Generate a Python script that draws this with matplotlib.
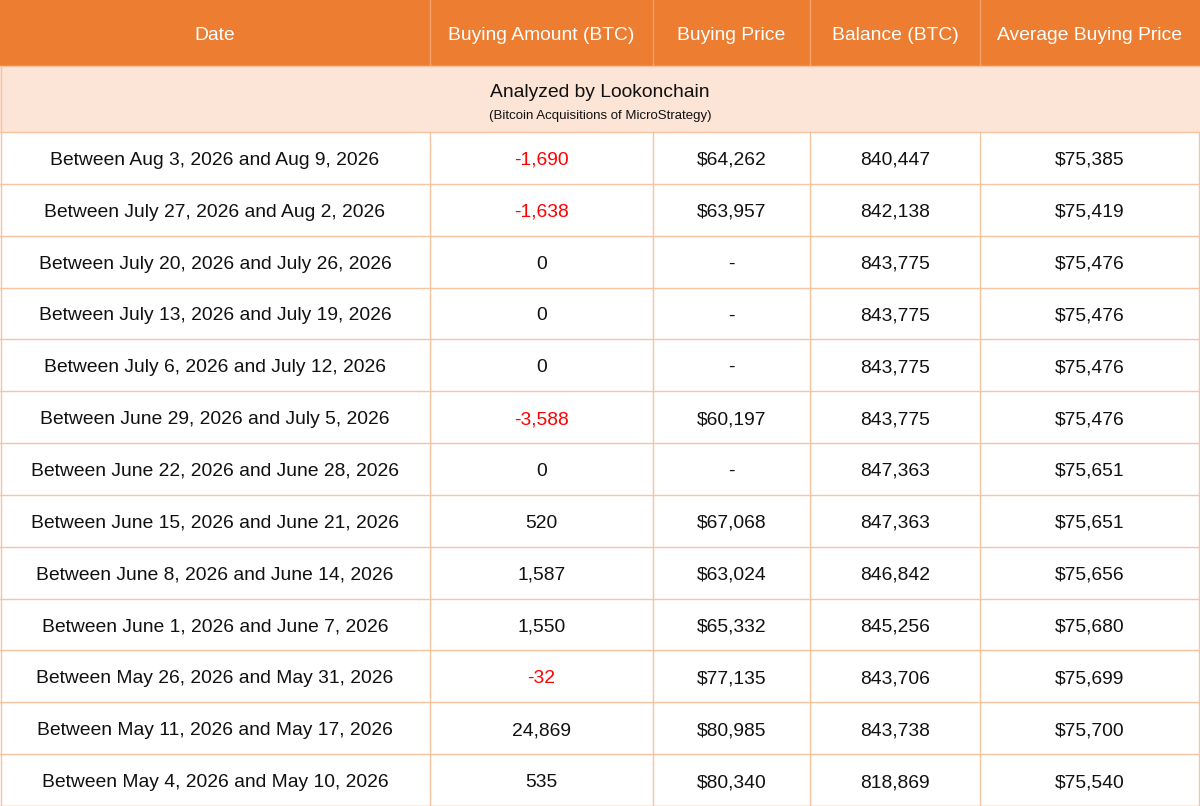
import matplotlib.pyplot as plt
from matplotlib.patches import Rectangle

plt.rcParams['font.family'] = ['Liberation Sans', 'DejaVu Sans']

columns = ['Date', 'Buying Amount (BTC)', 'Buying Price', 'Balance (BTC)', 'Average Buying Price']

dates = [
    'Between Aug 3, 2026 and Aug 9, 2026',
    'Between July 27, 2026 and Aug 2, 2026',
    'Between July 20, 2026 and July 26, 2026',
    'Between July 13, 2026 and July 19, 2026',
    'Between July 6, 2026 and July 12, 2026',
    'Between June 29, 2026 and July 5, 2026',
    'Between June 22, 2026 and June 28, 2026',
    'Between June 15, 2026 and June 21, 2026',
    'Between June 8, 2026 and June 14, 2026',
    'Between June 1, 2026 and June 7, 2026',
    'Between May 26, 2026 and May 31, 2026',
    'Between May 11, 2026 and May 17, 2026',
    'Between May 4, 2026 and May 10, 2026',
]
buy_amount = [-1690, -1638, 0, 0, 0, -3588, 0, 520, 1587, 1550, -32, 24869, 535]
buy_price = [64262, 63957, None, None, None, 60197, None, 67068, 63024, 65332, 77135, 80985, 80340]
balance = [840447, 842138, 843775, 843775, 843775, 843775, 847363, 847363, 846842, 845256, 843706, 843738, 818869]
avg_price = [75385, 75419, 75476, 75476, 75476, 75476, 75651, 75651, 75656, 75680, 75699, 75700, 75540]

title = 'Analyzed by Lookonchain'
subtitle = '(Bitcoin Acquisitions of MicroStrategy)'

W, H = 1200, 806
col_edges = [0, 430, 653, 810, 980, 1199]
head_h = 66
sub_h = 66
row_h = (H - head_h - sub_h) / len(dates)
dy = 2.5  # nudge text down a little

orange = '#ED7D31'
peach = '#FCE4D6'
line_c = '#F8C3A0'
fs = 13.9

fig = plt.figure(figsize=(W / 100, H / 100), dpi=100)
ax = fig.add_axes([0, 0, 1, 1])
ax.set_xlim(0, W)
ax.set_ylim(H, 0)
ax.axis('off')

# header
ax.add_patch(Rectangle((0, 0), W, head_h, color=orange, lw=0))
for i, name in enumerate(columns):
    cx = (col_edges[i] + col_edges[i + 1]) / 2
    ax.text(cx, head_h / 2 + dy, name, color='white', fontsize=fs, ha='center', va='center')
for x in col_edges[1:-1]:
    ax.plot([x, x], [0, head_h], color='#F4A26C', lw=1)

# subtitle band
ax.add_patch(Rectangle((0, head_h), W, sub_h, color=peach, lw=0))
ax.text(W / 2, head_h + 24 + dy, title, fontsize=fs, ha='center', va='center', color='#111111')
ax.text(W / 2, head_h + 48 + dy, subtitle, fontsize=9.5, ha='center', va='center', color='#111111')

# body rows
top = head_h + sub_h
for r in range(len(dates)):
    cy = top + (r + 0.5) * row_h + dy
    amt = buy_amount[r]
    price = '-' if buy_price[r] is None else f'${buy_price[r]:,}'
    cells = [dates[r], f'{amt:,}', price, f'{balance[r]:,}', f'${avg_price[r]:,}']
    for i, txt in enumerate(cells):
        cx = (col_edges[i] + col_edges[i + 1]) / 2
        c = '#FF0000' if (i == 1 and amt < 0) else '#111111'
        ax.text(cx, cy, txt, fontsize=fs, ha='center', va='center', color=c)

# grid lines
for r in range(len(dates) + 1):
    y = top + r * row_h
    ax.plot([0, W], [y, y], color=line_c, lw=1.0)
ax.plot([0, W], [head_h, head_h], color=line_c, lw=1.0)
for x in col_edges[1:]:
    ax.plot([x, x], [top, H], color=line_c, lw=1.0)
ax.plot([0.5, 0.5], [head_h, H], color=line_c, lw=1.0)
ax.plot([0, W], [H - 0.5, H - 0.5], color=line_c, lw=1.0)

fig.savefig('out.png', dpi=100)
